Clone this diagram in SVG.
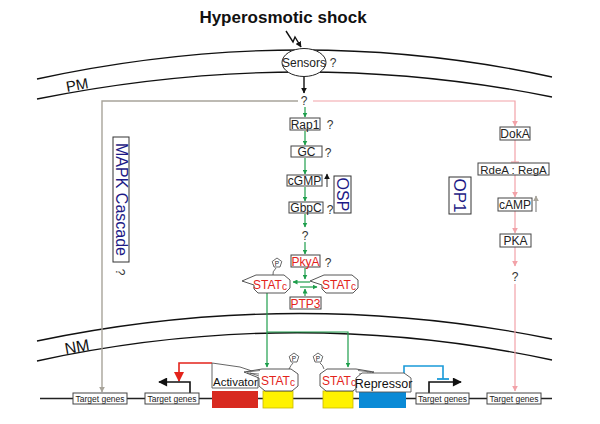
<svg xmlns="http://www.w3.org/2000/svg" xmlns:xlink="http://www.w3.org/1999/xlink" width="600" height="424" viewBox="0 0 600 424">
<style>
text{font-family:"Liberation Sans",Arial,sans-serif;}
.t{font-size:12px;fill:#222;text-anchor:middle}
.q{font-size:12px;fill:#333;text-anchor:middle}
.red{fill:#e3231b}
.box{fill:#fff;stroke:#444;stroke-width:1}
.mem{fill:none;stroke:#111;stroke-width:1.3}
.lab{font-size:16px;fill:#1d1a86;text-anchor:middle}
.g{stroke:#1e9e4c;stroke-width:1.2;fill:none}
.pk{stroke:#f2a2a8;stroke-width:1.2;fill:none}
.gr{stroke:#a8a49a;stroke-width:1.4;fill:none}
.blk{stroke:#111;stroke-width:1.4;fill:none}
.tg{font-size:8.5px;fill:#222;text-anchor:middle}
.stat{fill:#fff;stroke:#444;stroke-width:0.9}
.st{font-size:12px;fill:#e3231b;text-anchor:middle}
.hatch{stroke:#444;stroke-width:0.7;fill:none}
</style>
<defs>
<marker id="ag" viewBox="0 0 10 10" refX="9" refY="5" markerWidth="5" markerHeight="5" markerUnits="userSpaceOnUse" orient="auto"><path d="M0,0 L10,5 L0,10 Z" fill="#1e9e4c"/></marker>
<marker id="ap" viewBox="0 0 10 10" refX="9" refY="5" markerWidth="6" markerHeight="6" markerUnits="userSpaceOnUse" orient="auto"><path d="M0,0 L10,5 L0,10 Z" fill="#f2a2a8"/></marker>
<marker id="ab" viewBox="0 0 10 10" refX="9" refY="5" markerWidth="6" markerHeight="6" markerUnits="userSpaceOnUse" orient="auto"><path d="M0,0 L10,5 L0,10 Z" fill="#111"/></marker>
<marker id="abig" viewBox="0 0 10 10" refX="9" refY="5" markerWidth="10" markerHeight="9" markerUnits="userSpaceOnUse" orient="auto"><path d="M0,0 L10,5 L0,10 Z" fill="#111"/></marker>
<marker id="agr" viewBox="0 0 10 10" refX="9" refY="5" markerWidth="6" markerHeight="6" markerUnits="userSpaceOnUse" orient="auto"><path d="M0,0 L10,5 L0,10 Z" fill="#a8a49a"/></marker>
<marker id="ar" viewBox="0 0 10 10" refX="9" refY="5" markerWidth="10" markerHeight="10" markerUnits="userSpaceOnUse" orient="auto"><path d="M0,0 L10,5 L0,10 Z" fill="#e3231b"/></marker>
<path id="statshape" d="M-30,-3 L-16,-9 L12,-9 L18,-4 L18,4 L13,9 L-14,9 L-18,5 L-18,1 Z"/>
<g id="phos"><polygon points="0,-5 4.8,-1.5 3,4 -3,4 -4.8,-1.5" fill="#fff" stroke="#444" stroke-width="0.8"/><text x="0" y="2.5" style="font-size:6.5px;fill:#222;text-anchor:middle">P</text></g>
</defs>

<!-- title -->
<text x="283" y="23" style="font-size:17px;font-weight:bold;fill:#111;text-anchor:middle">Hyperosmotic shock</text>

<!-- membranes -->
<g id="membranes">
<path class="mem" d="M37,79 Q300,22 552,77"/>
<path class="mem" d="M37,99 Q300,46 552,97"/>
<path class="mem" d="M37,341 Q295,287 552,339"/>
<path class="mem" d="M37,361 Q295,305 552,360"/>
<text x="78" y="90" transform="rotate(-10 78 90)" style="font-size:15px;fill:#111;text-anchor:middle">PM</text>
<text x="78" y="352" transform="rotate(-10 78 352)" style="font-size:16px;fill:#111;text-anchor:middle">NM</text>
</g>

<!-- DNA -->
<line x1="40" y1="398.5" x2="552" y2="398.5" stroke="#222" stroke-width="1.4"/>

<!-- connectors -->
<g id="connectors">
<path class="blk" d="M286,31 L293,42 L295,37 L301,47" marker-end="url(#ab)"/>
<line class="blk" x1="304" y1="77" x2="304" y2="93" marker-end="url(#ab)"/>
<path class="gr" d="M298,101 L102,101 L102,392" marker-end="url(#agr)"/>
<path class="pk" d="M313,101 L515,101 L515,126" marker-end="url(#ap)"/>
<line class="pk" x1="515" y1="140" x2="515" y2="162"/>
<line class="pk" x1="511" y1="162" x2="519" y2="162"/>
<line class="pk" x1="515" y1="175" x2="515" y2="197" marker-end="url(#ap)"/>
<line class="pk" x1="515" y1="211" x2="515" y2="233" marker-end="url(#ap)"/>
<line class="pk" x1="515" y1="247" x2="515" y2="266" marker-end="url(#ap)"/>
<line class="pk" x1="515" y1="284" x2="515" y2="391" marker-end="url(#ap)"/>
<line x1="536" y1="212" x2="536" y2="196" stroke="#888" stroke-width="1.2" marker-end="url(#agr)"/>
<line x1="327" y1="187" x2="327" y2="174" stroke="#333" stroke-width="1" marker-end="url(#ab)"/>

<line class="g" x1="305" y1="107" x2="305" y2="117" marker-end="url(#ag)"/>
<line class="g" x1="305" y1="131" x2="305" y2="145" marker-end="url(#ag)"/>
<line class="g" x1="305" y1="158" x2="305" y2="174" marker-end="url(#ag)"/>
<line class="g" x1="305" y1="187" x2="305" y2="201" marker-end="url(#ag)"/>
<line class="g" x1="305" y1="214" x2="305" y2="227" marker-end="url(#ag)"/>
<line class="g" x1="305" y1="242" x2="305" y2="254" marker-end="url(#ag)"/>
<line class="g" x1="305" y1="268" x2="305" y2="279" marker-end="url(#ag)"/>
<line class="g" x1="305" y1="296" x2="305" y2="289" marker-end="url(#ag)"/>
<path class="g" d="M310,282 L293,282" marker-end="url(#ag)"/>
<path class="g" d="M300,287 L317,287" marker-end="url(#ag)"/>
<line class="g" x1="267" y1="293" x2="267" y2="367" marker-end="url(#ag)"/>
<path class="g" d="M267,332 L348,332 L348,367" marker-end="url(#ag)"/>

<path d="M212,363 L179,363 L179,381" stroke="#e3231b" stroke-width="1.6" fill="none" marker-end="url(#ar)"/>
<path d="M190,393 L190,382 L159,382" stroke="#111" stroke-width="1.6" fill="none" marker-end="url(#abig)"/>
<path d="M429,393 L429,382 L461,382" stroke="#111" stroke-width="1.6" fill="none" marker-end="url(#abig)"/>
<path d="M404,374 L404,366 L443,366 L443,379" stroke="#1a9ad9" stroke-width="1.6" fill="none"/>
<line x1="437" y1="379" x2="449" y2="379" stroke="#1a9ad9" stroke-width="1.8"/>
</g>

<!-- sensors -->
<g id="sensors">
<ellipse cx="304" cy="62.5" rx="22" ry="14" fill="#fff" stroke="#222" stroke-width="1"/>
<text x="304" y="67" style="font-size:12px;fill:#222;text-anchor:middle">Sensors</text>
<text class="q" x="333" y="67">?</text>
</g>
<text class="q" x="304" y="105">?</text>

<!-- OSP column -->
<g id="rap1"><rect class="box" x="290" y="118" width="30" height="12"/><text class="t" x="305" y="128.5">Rap1</text><text class="q" x="330" y="129">?</text></g>
<g id="gc"><rect class="box" x="291" y="146" width="31" height="11"/><text class="t" x="306.5" y="156">GC</text><text class="q" x="328" y="157">?</text></g>
<g id="cgmp"><rect class="box" x="287" y="175" width="35" height="11"/><text class="t" x="304.5" y="185">cGMP</text></g>
<g id="gbpc"><rect class="box" x="289" y="202" width="34" height="11"/><text class="t" x="306" y="212">GbpC</text><text class="q" x="330" y="214">?</text></g>
<g id="osp"><rect x="334" y="176" width="17" height="37" fill="#fff" stroke="#333" stroke-width="1"/><text class="lab" transform="translate(337,194.5) rotate(90)">OSP</text></g>
<text class="q" x="305" y="240">?</text>
<g id="pkya"><rect class="box" x="291" y="255" width="29" height="12"/><text class="t red" x="305.5" y="265.5">PkyA</text><text class="q" x="328" y="267">?</text></g>
<g id="ptp3"><rect class="box" x="290" y="297" width="31" height="12"/><text class="t red" x="305.5" y="307.5">PTP3</text></g>

<!-- cytoplasmic STATc -->
<g id="statc1">
<path d="M276,268 Q272,272 273,275" stroke="#444" stroke-width="0.8" fill="none"/>
<use xlink:href="#phos" x="277" y="263"/>
<use xlink:href="#statshape" class="stat" transform="translate(272,284)"/>
<text class="st" x="270" y="289">STAT<tspan style="font-size:10px" dy="1">c</tspan></text>
</g>
<g id="statc2">
<use xlink:href="#statshape" class="stat" transform="translate(340,284)"/>
<text class="st" x="339" y="289">STAT<tspan style="font-size:10px" dy="1">c</tspan></text>
</g>

<!-- MAPK / OP1 -->
<g id="mapk"><rect x="113" y="137" width="16" height="125" fill="#fff" stroke="#333" stroke-width="1"/><text class="lab" transform="translate(116,199.5) rotate(90)">MAPK Cascade</text><text class="q" transform="translate(116,272) rotate(90)">?</text></g>
<g id="op1"><rect x="449" y="177" width="22" height="37" fill="#fff" stroke="#333" stroke-width="1"/><text class="lab" style="font-size:17px" transform="translate(454,195.5) rotate(90)">OP1</text></g>

<!-- cAMP column -->
<g id="doka"><rect class="box" x="500" y="127" width="30" height="13"/><text class="t" x="515" y="138">DokA</text></g>
<g id="rdea"><rect class="box" x="478" y="163" width="71" height="12"/><text class="t" style="font-size:11.5px" x="513.5" y="173.5">RdeA : RegA</text></g>
<g id="camp"><rect class="box" x="498" y="198" width="34" height="13"/><text class="t" x="515" y="209">cAMP</text></g>
<g id="pka"><rect class="box" x="500" y="234" width="31" height="13"/><text class="t" x="515.5" y="245">PKA</text></g>
<text class="q" x="515" y="281">?</text>

<!-- DNA elements -->
<g id="elements">
<rect x="212" y="391" width="46" height="17" fill="#d82a20"/>
<rect x="263" y="391" width="30" height="17" fill="#fff200" stroke="#c9b800" stroke-width="0.8"/>
<rect x="323" y="391" width="30" height="17" fill="#fff200" stroke="#c9b800" stroke-width="0.8"/>
<rect x="359" y="391" width="47" height="17" fill="#0a8ad6"/>
</g>
<g id="tg1"><rect class="box" x="73" y="393" width="54" height="11"/><text class="tg" x="100" y="401.5">Target genes</text></g>
<g id="tg2"><rect class="box" x="145" y="393" width="54" height="11"/><text class="tg" x="172" y="401.5">Target genes</text></g>
<g id="tg3"><rect class="box" x="416" y="393" width="53" height="11"/><text class="tg" x="442.5" y="401.5">Target genes</text></g>
<g id="tg4"><rect class="box" x="487" y="393" width="54" height="11"/><text class="tg" x="514" y="401.5">Target genes</text></g>

<g id="activator">
<polygon points="212,363 240,367 258,373 258,388 212,388" fill="#fff" stroke="#555" stroke-width="0.9"/>
<text x="213" y="386" style="font-size:11.5px;fill:#111">Activator</text>
</g>
<g id="statc3">
<path d="M289,369 Q291,365 293,363" stroke="#444" stroke-width="0.8" fill="none"/>
<use xlink:href="#phos" x="294" y="358"/>
<path class="stat" d="M244,372 L262,369 L291,369 L298,374 L298,386 L292,391 L265,391 L259,386 L259,378 Z"/>
<path class="hatch" d="M247,372 L260,370.5 M247,373 L259,374 M250,373 L259,376"/>
<text class="st" x="278" y="385">STAT<tspan style="font-size:10px" dy="1">c</tspan></text>
</g>
<g id="statc4">
<path d="M320,363 Q323,365 324,369" stroke="#444" stroke-width="0.8" fill="none"/>
<use xlink:href="#phos" x="318" y="358"/>
<path class="stat" d="M374,372 L356,369 L327,369 L320,374 L320,386 L326,391 L353,391 L359,386 L359,378 Z"/>
<path class="hatch" d="M371,372 L358,370.5 M371,373 L359,374 M368,373 L359,376"/>
<text class="st" x="339" y="385">STAT<tspan style="font-size:10px" dy="1">c</tspan></text>
</g>
<g id="repressor">
<polygon points="356,392 356,378 362,373 404,373 411,378 411,392" fill="#fff" stroke="#555" stroke-width="0.9"/>
<text x="383.5" y="388" style="font-size:12.5px;fill:#111;text-anchor:middle">Repressor</text>
</g>
</svg>
